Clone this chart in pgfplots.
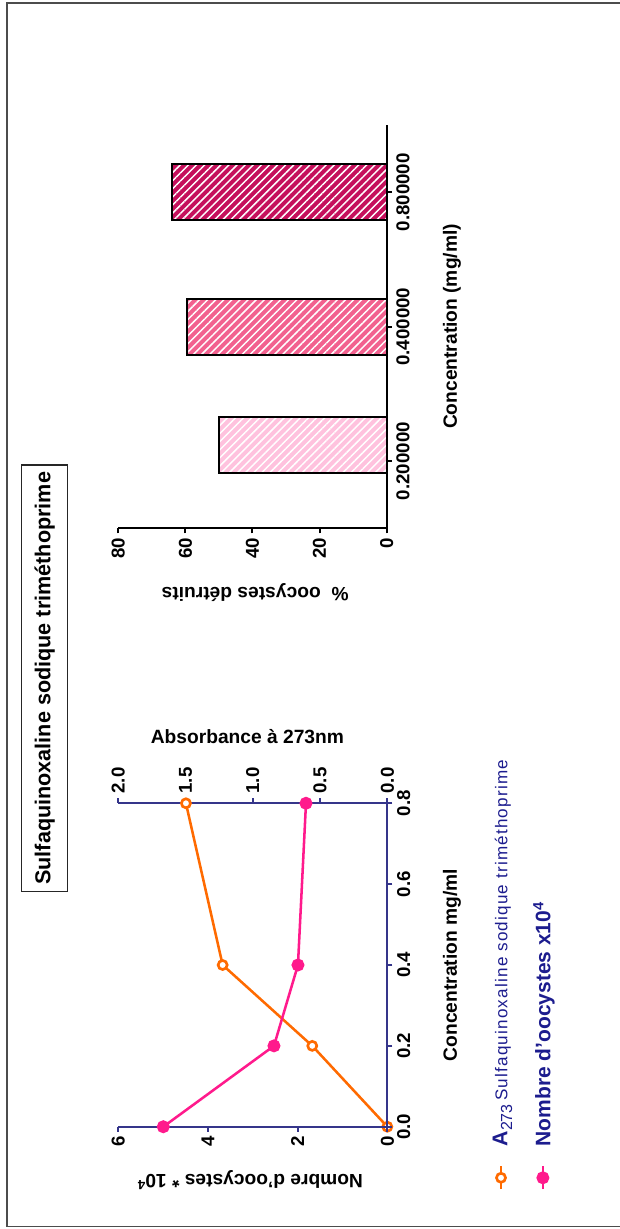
\documentclass[border=0pt]{standalone}
\usepackage{graphicx}
\usepackage{pgfplots}
\pgfplotsset{compat=1.18}
\usetikzlibrary{patterns.meta}
\usepackage{fontspec}
\setmainfont{Liberation Sans}
\newfontfamily\legfont[LetterSpace=7]{Liberation Sans}

\definecolor{axnavy}{HTML}{35358A}
\definecolor{absorb}{HTML}{FF6A00}
\definecolor{oocy}{HTML}{FF1A8C}
\definecolor{legnavy}{HTML}{1C1C8E}
\definecolor{barA}{HTML}{FFC2DE}
\definecolor{barB}{HTML}{F2618F}
\definecolor{barC}{HTML}{C5105C}

\newcommand{\tickfont}{\fontsize{14}{14}\selectfont\bfseries}
\newcommand{\labfont}{\fontsize{14.4}{14.4}\selectfont\bfseries}

\pgfplotsset{
  common/.style={
    scale only axis, enlargelimits=false, clip=false,
    tick align=outside, major tick length=3.75pt,
    minor tick num=0,
    ticklabel style={font=\tickfont},
    /pgf/number format/assume math mode=true,
  },
  dual/.style={
    common,
    width=242.6pt, height=201.8pt,
    at={(76.7pt,174.5pt)}, anchor=south west,
    xmin=0, xmax=0.8,
    axis line style={axnavy, line width=1.5pt},
    tick style={axnavy, line width=1.5pt},
  },
  absstyle/.style={absorb, line width=1.9pt, mark=*,
    mark size=3.4pt, mark options={fill=white, draw=absorb, line width=2pt}},
  oocstyle/.style={oocy, line width=1.9pt, mark=*,
    mark size=3.9pt, mark options={fill=oocy, draw=oocy}},
  barbase/.style={ybar, bar width=42pt, bar shift=0pt, draw=black,
    line width=1.5pt, pattern color=white,
    pattern={Lines[angle=45, distance=4.3pt, line width=1.1pt]}},
}

\begin{document}
\rotatebox{90}{%
\begin{tikzpicture}
\useasboundingbox (0,0) rectangle (921.75pt,465pt);
% page frame
\draw[black!70, line width=1pt] (1.7pt,0) -- (1.7pt,459.75pt) -- (919.5pt,459.75pt) -- (919.5pt,0);

% title
\node[draw=black!85, line width=1.1pt, minimum width=320pt, minimum height=34.5pt,
      inner sep=0pt, font=\fontsize{16.2}{16.2}\selectfont\bfseries]
  at (413pt,431.5pt) {Sulfaquinoxaline sodique triméthoprime};

% absorbance (right axis)
\begin{axis}[dual,
  axis x line=none, axis y line*=right,
  ymin=0, ymax=2, ytick={0,0.5,1,1.5,2},
  yticklabel style={/pgf/number format/.cd, fixed, fixed zerofill, precision=1},
  ylabel={Absorbance à 273nm},
  every axis y label/.style={at={(axis description cs:1.205,0.52)}, rotate=-90,
    anchor=center, font=\labfont},
]
\addplot[absstyle] coordinates {(0,0) (0.2,0.558) (0.4,1.224) (0.8,1.497)};
\end{axis}

% oocyst count (left axis)
\begin{axis}[dual,
  axis x line*=bottom, axis y line*=left,
  ymin=0, ymax=6, ytick={0,2,4,6},
  xtick={0,0.2,0.4,0.6,0.8},
  xticklabel style={/pgf/number format/.cd, fixed, fixed zerofill, precision=1},
  xlabel={Concentration mg/ml},
  ylabel={Nombre d'oocystes * 10\textsuperscript{4}},
  every axis x label/.style={at={(axis description cs:0.5,-0.2405)}, anchor=center, font=\labfont},
  every axis y label/.style={at={(axis description cs:-0.165,0.51)}, rotate=90, anchor=center, font=\labfont},
  legend cell align=left,
  legend style={draw=none, fill=none, inner sep=0pt,
    at={(axis description cs:-0.198,-0.5026)}, anchor=west,
    row sep=14pt,
    /tikz/every odd column/.append style={column sep=12pt}},
  legend image code/.code={\draw[#1] plot coordinates {(0pt,0pt)} (-8.6pt,0pt) -- (8.6pt,0pt);},
]
\addlegendimage{absstyle}
\addlegendentry{\color{legnavy}{\fontsize{16}{16}\selectfont\bfseries A\raisebox{-3.5pt}{\mdseries\fontsize{12}{12}\selectfont 273}}
  {\legfont\fontsize{12.8}{12.8}\selectfont Sulfaquinoxaline sodique triméthoprime}}
\addplot[oocstyle] coordinates {(0,4.996) (0.2,2.528) (0.4,1.993) (0.8,1.814)};
\addlegendentry{\color{legnavy}\fontsize{15.75}{15.75}\selectfont\bfseries Nombre d'oocystes x10\textsuperscript{4}}
\end{axis}

% percentage of destroyed oocysts
\begin{axis}[common,
  width=302.5pt, height=201.3pt, at={(525.5pt,175pt)}, anchor=south west,
  xmin=-0.5, xmax=2.5, ymin=0, ymax=80,
  axis x line*=bottom, axis y line*=left,
  axis line style={black, line width=1.5pt},
  tick style={black, line width=1.5pt},
  xtick={0,1,2}, xticklabels={0.200000,0.400000,0.800000},
  ytick={0,20,40,60,80},
  xlabel={Concentration (mg/ml)},
  ylabel={\%\ \ oocystes détruits},
  every axis x label/.style={at={(axis description cs:0.5004,-0.243)}, anchor=center, font=\labfont},
  every axis y label/.style={at={(axis description cs:-0.160,0.49)}, rotate=90, anchor=center, font=\labfont},
]
\addplot[barbase, preaction={fill=barA}] coordinates {(0.12,49.9)};
\addplot[barbase, preaction={fill=barB}] coordinates {(1,59.6)};
\addplot[barbase, preaction={fill=barC}] coordinates {(2,64.1)};
\end{axis}
\end{tikzpicture}}
\end{document}
